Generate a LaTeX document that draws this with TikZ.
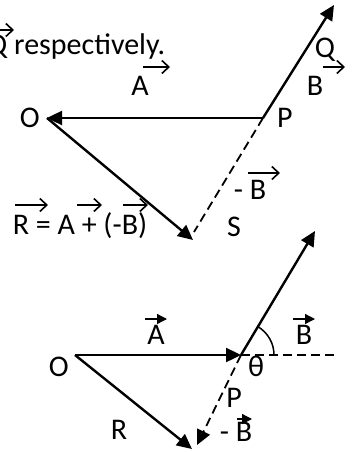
\documentclass[tikz,border=0pt]{standalone}
\usepackage{fontspec}
\setmainfont{Carlito}
\usepackage{tikz}
\usetikzlibrary{positioning,arrows.meta}

\begin{document}
\begin{tikzpicture}[x=1pt, y=-1pt,
    every node/.style={font=\fontsize{30}{36}\selectfont, inner sep=0pt},
    vecline/.style={line width=2.4pt, -{Triangle[length=15pt,width=14pt]}},
    minusline/.style={line width=1.8pt, dash pattern=on 9pt off 5pt},
    overtop/.style={line width=1.6pt, -{Straight Barb[length=7pt,width=13pt]}},
    overbot/.style={line width=1.3pt, -{Triangle[length=10pt,width=10pt]}}]
    \useasboundingbox (0,0) rectangle (355,452);

    % Difference of vectors (Top)
    \coordinate (o1) at (47,118);
    \coordinate (p1) at (263,118);
    \coordinate (q1) at (334,5);
    \coordinate (s1) at (193,240);
    \coordinate (m1) at (194,232);
    \draw[vecline] (p1) -- (o1);
    \draw[vecline] (p1) -- (q1);
    \draw[vecline] (o1) -- (s1);
    \draw[minusline] (p1) -- (m1);

    \node[anchor=base west] (txtQ) at (-13,55) {Q respectively.};
    \draw[overtop] ([shift={(12,-25)}]txtQ.base west) -- ++(15,0);
    \node[left=7pt of o1] (labO1) {O};
    \node[right=14pt of p1] (labP1) {P};
    \node (labQ1) at (325,50) {Q};
    \node (labA1) at (140,86) {A};
    \draw[overtop] ([shift={(3,-19)}]labA1.center) -- ++(27,0);
    \node (labB1) at (315,86) {B};
    \draw[overtop] ([shift={(8,-19)}]labB1.center) -- ++(22,0);
    \node (labmB1) at (250,190) {- B};
    \draw[overtop] ([shift={(-2,-17)}]labmB1.center) -- ++(32,0);
    \node (labS1) at (234,227) {S};
    \node (labR1) at (80,226) {R = A + (-B)};
    \draw[overtop] ([shift={(-65,-21)}]labR1.center) -- ++(33,0);
    \draw[overtop] ([shift={(-3,-21)}]labR1.center) -- ++(25,0);
    \draw[overtop] ([shift={(43,-21)}]labR1.center) -- ++(25,0);

    % Sum with angle theta (Bottom)
    \coordinate (o2) at (75,355);
    \coordinate (p2) at (241,355);
    \coordinate (q2) at (315,231);
    \coordinate (e2) at (335,355);
    \coordinate (s2) at (192,449);
    \coordinate (m2) at (197,445);
    \draw[vecline] (o2) -- (p2);
    \draw[vecline] (p2) -- (q2);
    \draw[minusline, line width=1.5pt] (p2) -- (e2);
    \draw[vecline] (o2) -- (s2);
    \draw[minusline, -{Triangle[length=15pt,width=14pt]}] (p2) -- (m2);
    \draw[line width=1.5pt] ([shift={(33,0)}]p2) arc[start angle=0, end angle=-59, radius=33];

    \node[below left=2pt and 6pt of o2] (labO2) {O};
    \node (labA2) at (156,335) {A};
    \draw[overbot] ([shift={(-11,-16)}]labA2.center) -- ++(22,0);
    \node (labB2) at (304,335) {B};
    \draw[overbot] ([shift={(-11,-16)}]labB2.center) -- ++(22,0);
    \node (labT2) at (256,366) {θ};
    \node (labP2) at (234,398) {P};
    \node (labmB2) at (236,432) {- B};
    \draw[overbot] ([shift={(1,-13)}]labmB2.center) -- ++(15,0);
    \node (labR2) at (119,430) {R};
\end{tikzpicture}
\end{document}
